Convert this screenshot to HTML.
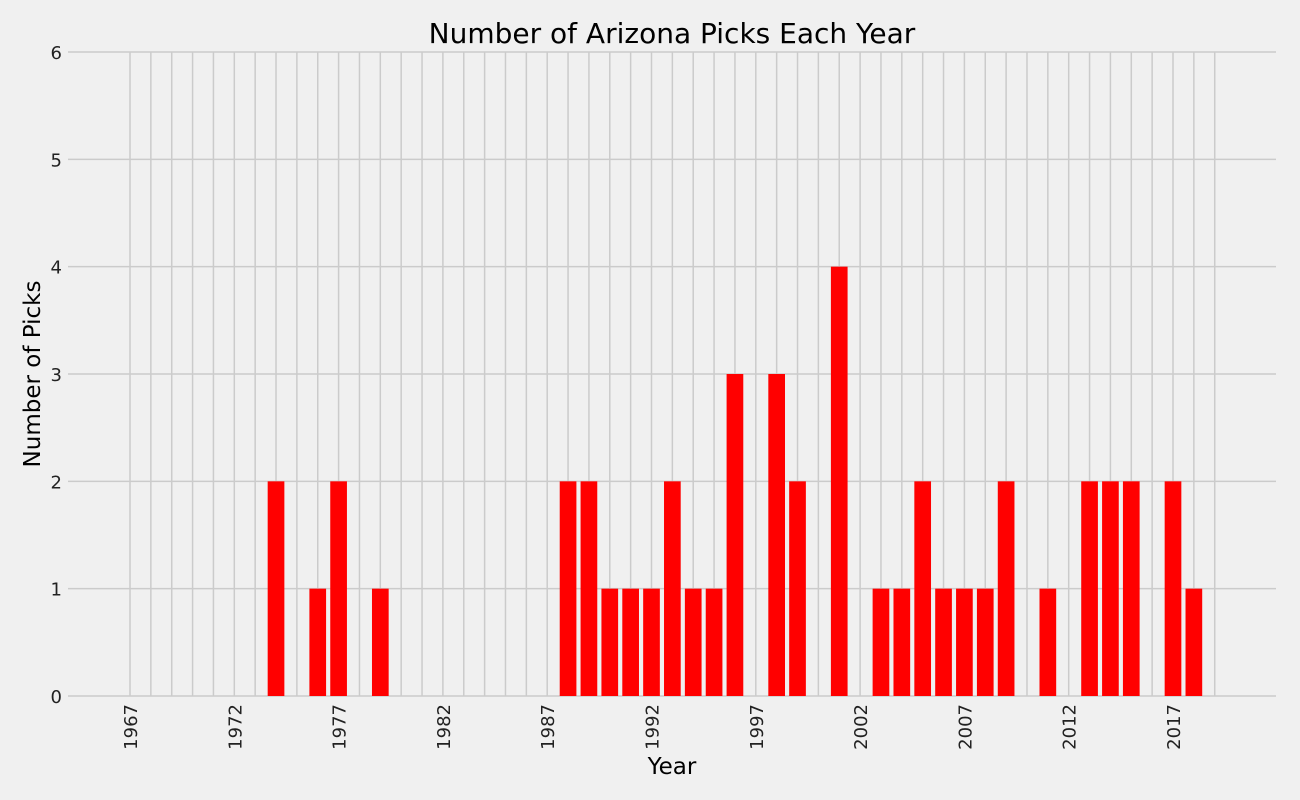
<!DOCTYPE html>
<html><head><meta charset="utf-8"><style>
html,body{margin:0;padding:0;background:#f0f0f0;}
svg{display:block;font-family:"DejaVu Sans","Liberation Sans",sans-serif;}
</style></head><body>
<svg id="chart" width="1300" height="800" viewBox="0 0 1300 800">
<rect width="1300" height="800" fill="#f0f0f0"/>
<g id="grid"></g>
<g id="bars"></g>
<g id="xticks"></g>
<g id="yticks"></g>
<text x="672" y="43" font-size="28" text-anchor="middle" fill="#000">Number of Arizona Picks Each Year</text>
<text x="672" y="774" font-size="23" text-anchor="middle" fill="#000">Year</text>
<text transform="translate(40,374) rotate(-90)" font-size="23" text-anchor="middle" fill="#000">Number of Picks</text>
</svg>
<script>
const years = [1974,1976,1977,1979,1988,1989,1990,1991,1992,1993,1994,1995,1996,1998,1999,2001,2003,2004,2005,2006,2007,2008,2009,2011,2013,2014,2015,2017,2018];
const picks = [2,1,2,1,2,2,1,1,1,2,1,1,3,3,2,4,1,1,2,1,1,1,2,1,2,2,2,2,1];
const xTickLabels = [1967,1972,1977,1982,1987,1992,1997,2002,2007,2012,2017];
const yTickLabels = [0,1,2,3,4,5,6];
const gridYearStart = 1967, gridYearEnd = 2019;

const NS = "http://www.w3.org/2000/svg";
const plotL = 68, plotR = 1276, plotT = 52, plotB = 696;
const pxPerYear = (1173 - 130) / 50;
function xScale(yr){ return 130 + (yr - 1967) * pxPerYear; }
function yScale(v){ return plotB - v * (plotB - plotT) / 6; }
function mk(tag, attrs, parent){const e=document.createElementNS(NS,tag);for(const k in attrs)e.setAttribute(k,attrs[k]);parent.appendChild(e);return e;}
const grid=document.getElementById('grid'), bars=document.getElementById('bars'), xt=document.getElementById('xticks'), yt=document.getElementById('yticks');
for(let yr=gridYearStart; yr<=gridYearEnd; yr++){
  const l=mk('line',{x1:xScale(yr),x2:xScale(yr),y1:plotT,y2:plotB,stroke:'#cbcbcb','stroke-width':1.5},grid);
  
  
}
yTickLabels.forEach(v=>{
  const l=mk('line',{x1:plotL,x2:plotR,y1:yScale(v),y2:yScale(v),stroke:'#cbcbcb','stroke-width':1.5},grid);
  
  
  const t=mk('text',{x:62,y:yScale(v)+7,'font-size':18,'text-anchor':'end',fill:'#222'},yt);
  t.textContent=v;
  
  
});
const bw = pxPerYear*0.8;
years.forEach((yr,i)=>{
  const r=mk('rect',{x:xScale(yr)-bw/2,y:yScale(picks[i]),width:bw,height:plotB-yScale(picks[i]),fill:'#ff0000'},bars);
  
  
});
xTickLabels.forEach(yr=>{
  const t=mk('text',{transform:`translate(${xScale(yr)+7},704) rotate(-90)`,'font-size':18,'text-anchor':'end',fill:'#222'},xt);
  t.textContent=yr;
  
  
});
</script>
</body></html>
